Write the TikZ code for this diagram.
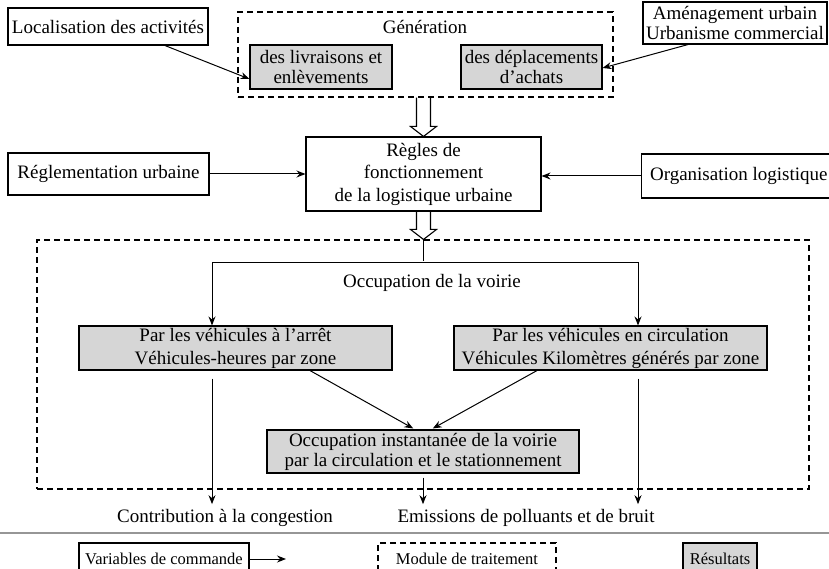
\documentclass[tikz,border=0pt]{standalone}
\usepackage{fontspec}
\setmainfont{Liberation Serif}
\usetikzlibrary{calc,arrows.meta}
\definecolor{resgray}{RGB}{214,214,214}
\definecolor{sepgray}{RGB}{150,150,150}
\newcommand\holarrow[2]{\draw[hol] let \p1=(#1), \p2=(#2) in
  (\x2-7pt,\y1) -- (\x2-7pt,\y2+10pt) -- (\x2-13pt,\y2+10pt) -- (\x2,\y2)
  -- (\x2+13pt,\y2+10pt) -- (\x2+7pt,\y2+10pt) -- (\x2+7pt,\y1);}
\begin{document}
\begin{tikzpicture}[x=1pt,y=-1pt,
  box/.style={draw=black, line width=1.1pt, inner sep=0pt, align=center, font=\fontsize{19}{20}\selectfont},
  res/.style={box, fill=resgray},
  dbox/.style={draw=black, line width=1.1pt, inner sep=0pt, dash pattern=on 6pt off 4pt, align=center},
  lbl/.style={inner sep=0pt, font=\fontsize{19}{22}\selectfont, align=center},
  leg/.style={font=\fontsize{16.5}{18}\selectfont},
  arr/.style={-{Stealth[length=9pt,width=7pt,inset=3pt]}, line width=1pt},
  hol/.style={draw=black, line width=1.1pt}
]
\useasboundingbox (0,0) rectangle (829,569);

% top row
\node[box, minimum width=200pt, minimum height=37pt] (loc) at (108,26.5) {Localisation des activités};
\node[dbox, minimum width=375pt, minimum height=85pt] (gen) at (425.5,54.5) {};
\node[lbl] (gent) at (425,27) {Génération};
\node[res, minimum width=142pt, minimum height=44pt] (liv) at (321,67) {des livraisons et\\enlèvements};
\node[res, minimum width=141pt, minimum height=44pt] (dep) at (531.5,67) {des déplacements\\d’achats};
\node[box, minimum width=184pt, minimum height=42pt] (amen) at (735,23) {Aménagement urbain\\Urbanisme commercial};

\draw[arr] ([xshift=57pt]loc.south) -- ([yshift=-12pt]liv.west);
\draw[arr] ([xshift=-47pt]amen.south) -- ([yshift=-1pt]dep.east);

% middle row
\node[box, minimum width=235pt, minimum height=74pt, font=\fontsize{19}{22.5}\selectfont] (regles) at (423.5,174) {Règles de\\fonctionnement\\de la logistique urbaine};
\node[box, minimum width=201pt, minimum height=42pt] (regl) at (108.5,174) {Réglementation urbaine};
\node[box, anchor=west, minimum height=44pt, inner xsep=8.5pt] (org) at (641,176) {Organisation logistique};

\draw[arr] (regl.east) -- (regl.east -| regles.west);
\draw[arr] (org.west) -- (org.west -| regles.east);

\holarrow{gen.south}{regles.north}

% processing module
\node[dbox, minimum width=772pt, minimum height=249pt] (big) at (423,364.5) {};
\coordinate (bt) at (regles.south |- big.north);
\holarrow{regles.south}{bt}

\coordinate (tj) at ($(bt)+(0,22)$);
\coordinate (tl) at (212,262);
\coordinate (tr) at (638,262);
\node[lbl] (occv) at (432,283) {Occupation de la voirie};

\node[res, minimum width=313pt, minimum height=44pt, font=\fontsize{19}{23}\selectfont] (par1) at (235.5,348) {Par les véhicules à l’arrêt\\Véhicules-heures par zone};
\node[res, minimum width=313pt, minimum height=44pt, font=\fontsize{19}{23}\selectfont] (par2) at (610.5,348) {Par les véhicules en circulation\\Véhicules Kilomètres générés par zone};
\node[res, minimum width=312pt, minimum height=43pt] (occ) at (423,451.5) {Occupation instantanée de la voirie\\par la circulation et le stationnement};

\draw[line width=1pt] (bt) -- (tj);
\draw[line width=1pt] (tl) -- (tr);
\draw[arr] (tl) -- (tl |- par1.north);
\draw[arr] (tr) -- (tr |- par2.north);

\draw[arr, shorten >=2pt] ([xshift=74.5pt]par1.south) -- ([xshift=-8pt]occ.north);
\draw[arr, shorten >=2pt] ([xshift=-73.5pt]par2.south) -- ([xshift=8pt]occ.north);

% outputs
\node[lbl] (contrib) at (225,518) {Contribution à la congestion};
\node[lbl] (emis) at (526,518) {Emissions de polluants et de bruit};

\draw[arr, shorten >=5pt] ($(par1.south -| tl)+(0,8)$) -- (tl |- contrib.north);
\draw[arr, shorten >=5pt] ($(occ.south)+(0,4)$) -- (occ.south |- emis.north);
\draw[arr, shorten >=5pt] ($(par2.south -| tr)+(0,8)$) -- (tr |- emis.north);

% separator
\coordinate (sl) at (0,533);
\coordinate (sr) at (829,533);
\draw[sepgray, line width=1.5pt] (sl) -- (sr);

% legend
\node[box, leg, minimum width=170pt, minimum height=32pt] (lvar) at (164,559) {Variables de commande};
\coordinate (lvarend) at (286,559);
\draw[arr] (lvar.east) -- (lvarend);
\node[dbox, leg, minimum width=178pt, minimum height=32pt] (lmod) at (467,559) {Module de traitement};
\node[res, leg, minimum width=74pt, minimum height=32pt] (lres) at (720,559) {Résultats};
\end{tikzpicture}
\end{document}
